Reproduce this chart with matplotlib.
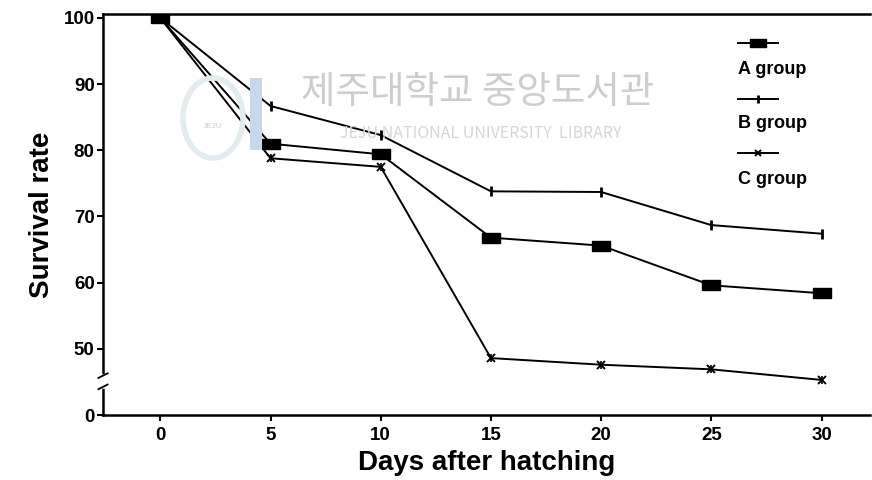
import matplotlib
matplotlib.use("Agg")
import matplotlib.pyplot as plt
import matplotlib.transforms as mtransforms
from matplotlib.patches import Rectangle, Ellipse

plt.rcParams['font.family'] = ['Liberation Sans', 'DejaVu Sans']

days = [0, 5, 10, 15, 20, 25, 30]
group_a = [100, 81.0, 79.4, 66.8, 65.6, 59.6, 58.4]
group_b = [100, 86.7, 82.3, 73.8, 73.7, 68.7, 67.4]
group_c = [100, 78.8, 77.5, 48.6, 47.6, 46.9, 45.3]
labels = ['A group', 'B group', 'C group']
ytick_pos = [40, 50, 60, 70, 80, 90, 100]
ytick_lab = ['0', '50', '60', '70', '80', '90', '100']
xtick_pos = [0, 5, 10, 15, 20, 25, 30]

rect_marker = [(-1, -0.55), (1, -0.55), (1, 0.55), (-1, 0.55), (-1, -0.55)]

fig = plt.figure(figsize=(8.72, 4.8), dpi=100)
ax = fig.add_axes([103/872, 1-415/480, (870-103)/872, (415-14)/480])

# watermark
fig.text(478/872, 1-92/480, '제주대학교 중앙도서관', family=['Noto Sans CJK KR'],
         fontsize=27, color='#cdcdcd', ha='center', va='center', zorder=0)
fig.text(481/872, 1-134/480, 'JEJU NATIONAL UNIVERSITY  LIBRARY', family=['Noto Sans CJK KR'],
         fontsize=11.5, color='#d6d6d6', ha='center', va='center', zorder=0, fontweight='light')
fig.patches.append(Rectangle((250/872, 1-150/480), 12/872, 72/480, transform=fig.transFigure,
                             facecolor='#c7d8ec', edgecolor='none', zorder=0))
fig.patches.append(Ellipse((213/872, 1-118/480), 60/872, 80/480, transform=fig.transFigure,
                           facecolor='none', edgecolor='#e2ecef', lw=4, zorder=0))
fig.text(213/872, 1-126/480, 'JEJU', fontsize=6, color='#d0d0d0', ha='center', va='center')

ms = dict(color='black', lw=1.4, zorder=3)
ax.plot(days, group_a, marker=rect_marker, markersize=12.5, markerfacecolor='black',
        markeredgecolor='black', **ms)
ax.plot(days, group_b, marker='|', markersize=7, markeredgewidth=2, **ms)
ax.plot(days, group_c, marker='x', markersize=6, markeredgewidth=1.4, **ms)
ax.plot(days[1:], group_c[1:], ls='none', marker='|', markersize=6, markeredgewidth=1.2,
        color='black', zorder=3)

ax.set_xlim(-2.6, 32.2)
ax.set_ylim(40, 100.6)
ax.set_xticks(xtick_pos)
ax.set_xticklabels([str(v) for v in xtick_pos])
ax.set_yticks(ytick_pos)
ax.set_yticklabels(ytick_lab)
ax.spines['right'].set_visible(False)
for s in ['left', 'bottom', 'top']:
    ax.spines[s].set_linewidth(1.8)
ax.tick_params(axis='both', direction='out', length=4, width=1.5, labelsize=13.5)
ax.tick_params(axis='x', pad=5)
ax.tick_params(axis='y', pad=2)
for t in ax.get_xticklabels() + ax.get_yticklabels():
    t.set_fontweight('bold')

ax.set_ylabel('Survival rate', fontsize=20, fontweight='bold', labelpad=6)
ax.set_xlabel('Days after hatching', fontsize=20, fontweight='bold', labelpad=4)

# axis break
trans = mtransforms.blended_transform_factory(ax.transAxes, ax.transData)
ax.plot([0, 0], [44.4, 45.8], transform=trans, color='white', lw=4, clip_on=False, zorder=5)
ax.plot([-0.006, 0.006], [45.6, 46.3], transform=trans, color='black', lw=1.3, clip_on=False, zorder=6)
ax.plot([-0.006, 0.006], [43.9, 44.6], transform=trans, color='black', lw=1.3, clip_on=False, zorder=6)

# legend drawn manually
leg_y_line = [43, 99, 153]
leg_y_text = [69, 124, 180]
markers = [dict(marker=rect_marker, markersize=11), dict(marker='|', markersize=6, markeredgewidth=2),
           dict(marker='x', markersize=5, markeredgewidth=1.4)]
for i in range(3):
    yl = 1 - leg_y_line[i]/480
    fig.add_artist(plt.Line2D([738/872, 778/872], [yl, yl], transform=fig.transFigure,
                              color='black', lw=1.4))
    fig.add_artist(plt.Line2D([758/872], [yl], transform=fig.transFigure, color='black',
                              ls='none', **markers[i]))
    fig.text(738/872, 1-leg_y_text[i]/480, labels[i], fontsize=13, fontweight='bold',
             ha='left', va='center')

fig.savefig('out.png', dpi=100)
